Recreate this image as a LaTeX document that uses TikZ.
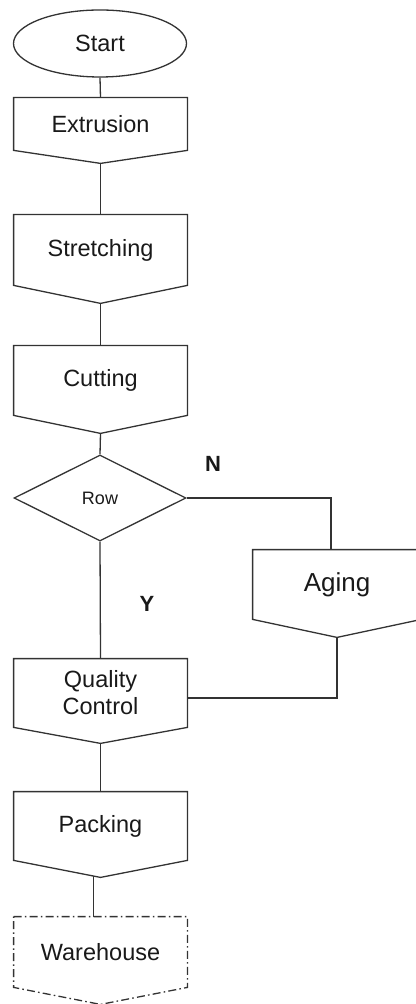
\documentclass[tikz,border=0pt]{standalone}
\usepackage{fontspec}
\setmainfont{Liberation Sans}
\usetikzlibrary{shapes.geometric,calc}
\tikzset{
  ln/.style={draw=black!80, line width=0.65pt},
  lbl/.style={font=\fontsize{11.75}{13.5}\selectfont, text=black!90, align=center, inner sep=0pt},
  boxarea/.style={lbl, draw=none, minimum width=86.5pt, rectangle},
  decision/.style={ln, diamond, lbl, font=\fontsize{9}{10}\selectfont, minimum width=86pt, minimum height=43pt},
  terminal/.style={ln, ellipse, lbl, minimum width=86.5pt, minimum height=33.5pt},
  branch/.style={font=\bfseries\fontsize{11}{12}\selectfont, text=black!90, inner sep=0pt},
  wh/.style={ln, dash pattern=on 4pt off 1.6pt on 0.8pt off 1.6pt},
}
\begin{document}
\begin{tikzpicture}[x=0.5pt,y=-0.5pt]
\useasboundingbox (0,0) rectangle (416,1004);
% nodes
\node[terminal] (start) at (100,43.5) {Start};
\node[boxarea, minimum height=26pt] (ext) at (100.5,124) {Extrusion};
\node[boxarea, minimum height=35pt] (str) at (100.5,250) {Stretching};
\node[boxarea, minimum height=34.5pt] (cut) at (100.5,380.5) {Cutting};
\node[decision] (row) at (100,498) {Row};
\node[boxarea, minimum width=84pt, minimum height=34.5pt, font=\fontsize{13}{15}\selectfont] (age) at (337,584.5) {Aging};
\node[boxarea, minimum height=34pt] (qc) at (100.5,693) {Quality\\Control};
\node[boxarea, minimum height=34pt] (pack) at (100.5,826) {Packing};
\node[boxarea, minimum height=35pt] (wh) at (100.5,952) {Warehouse};
% outlines of the off-page shapes
\foreach \n/\d in {ext/13,str/18,cut/18,age/18,qc/16,pack/17} {
  \coordinate (\n-tip) at ($(\n.south)+(0,\d)$);
  \draw[ln] (\n.north west) -- (\n.north east) -- (\n.south east) -- (\n-tip) -- (\n.south west) -- cycle;
}
\coordinate (wh-tip) at ($(wh.south)+(0,17)$);
\draw[wh] (wh.north west) -- (wh.north east) -- (wh.south east) -- (wh-tip) -- (wh.south west) -- cycle;
% connectors
\draw[ln] (start.south) -- (ext.north);
\draw[ln] (ext-tip) -- (str.north);
\draw[ln] (str-tip) -- (cut.north);
\draw[ln] (cut-tip) -- (row.north);
\draw[ln] (row.east) -| ([xshift=-3pt]age.north);
\draw[ln] (row.south) -- (qc.north);
\draw[ln] (age-tip) |- ([yshift=-2.5pt]qc.east);
\draw[ln] (qc-tip) -- (pack.north);
\draw[ln] ([xshift=-3.5pt,yshift=0.7pt]pack-tip) -- ([xshift=-3.5pt]wh.north);
% labels
\node[branch] (n) at (213,464) {N};
\node[branch] (y) at (147,604) {Y};
\end{tikzpicture}
\end{document}
